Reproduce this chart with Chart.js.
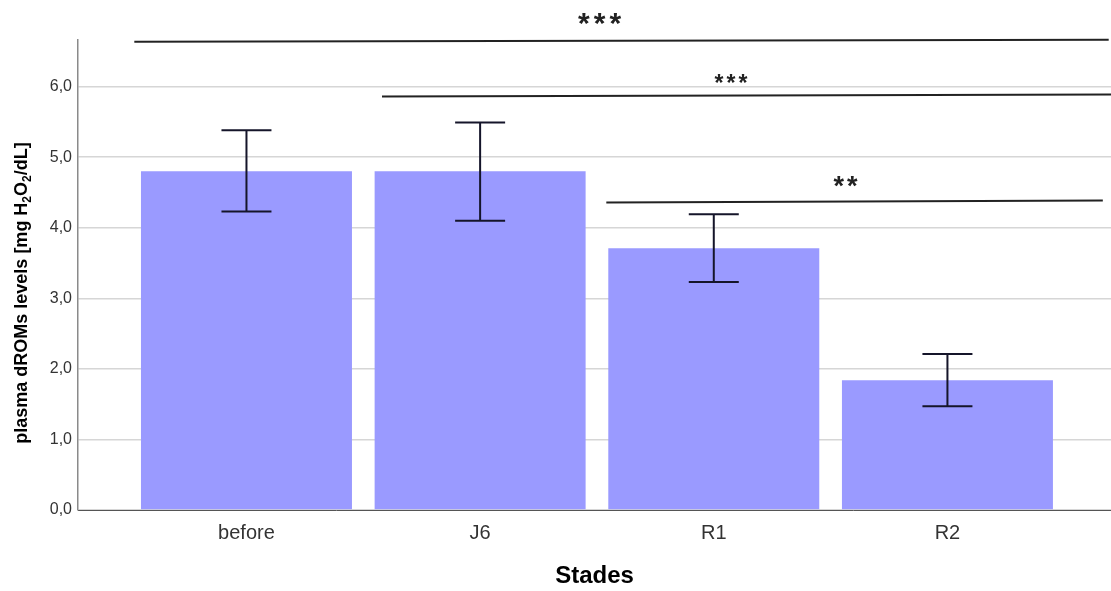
<!DOCTYPE html>
<html>
<head>
<meta charset="utf-8">
<script src="https://cdn.jsdelivr.net/npm/chart.js@4/dist/chart.umd.min.js"></script>
<style>
  html, body { margin: 0; padding: 0; background: #fff; }
  #chart { display: block; }
</style>
</head>
<body>
<canvas id="chart" width="1111" height="591"></canvas>
<script>
// --- data ---
const stades = ['before', 'J6', 'R1', 'R2'];
const means = [4.80, 4.80, 3.71, 1.84];
const errLow = [4.23, 4.10, 3.23, 1.47];
const errHigh = [5.38, 5.49, 4.19, 2.21];
const yTicks = [0, 1, 2, 3, 4, 5, 6];

// significance brackets: x in category units, y in data units
const sigFrom = [-0.48, 0.58, 1.54];
const sigTo = [3.69, 3.70, 3.665];
const sigYStart = [6.636, 5.858, 4.358];
const sigYEnd = [6.665, 5.887, 4.387];
const sigLabels = ['***', '***', '**'];
const sigLabelX = [1.52, 2.08, 2.57];
const sigLabelY = [6.96, 6.11, 4.66];
const sigLabelSize = [30, 23, 27];

const FONT = '"Liberation Sans", Arial, sans-serif';

// error bars
const errorBars = {
    id: 'errorBars',
    afterDatasetsDraw(chart) {
        const { ctx, scales: { x, y } } = chart;
        ctx.save();
        ctx.strokeStyle = '#15152a';
        ctx.lineWidth = 2;
        stades.forEach((s, i) => {
            const cx = x.getPixelForValue(i);
            const top = y.getPixelForValue(errHigh[i]);
            const bot = y.getPixelForValue(errLow[i]);
            ctx.beginPath();
            ctx.moveTo(cx, top); ctx.lineTo(cx, bot);
            ctx.moveTo(cx - 25, top); ctx.lineTo(cx + 25, top);
            ctx.moveTo(cx - 25, bot); ctx.lineTo(cx + 25, bot);
            ctx.stroke();
        });
        ctx.restore();
    }
};

// significance lines + stars, and the y axis title (needs subscripts)
const annotations = {
    id: 'annotations',
    afterDraw(chart) {
        const { ctx, scales: { x, y } } = chart;
        ctx.save();
        ctx.strokeStyle = '#222';
        ctx.lineWidth = 2;
        sigFrom.forEach((f, i) => {
            ctx.beginPath();
            ctx.moveTo(x.getPixelForValue(f), y.getPixelForValue(sigYStart[i]));
            ctx.lineTo(x.getPixelForValue(sigTo[i]), y.getPixelForValue(sigYEnd[i]));
            ctx.stroke();
        });

        ctx.fillStyle = '#222';
        ctx.textAlign = 'center';
        ctx.textBaseline = 'alphabetic';
        sigLabels.forEach((t, i) => {
            ctx.font = 'bold ' + sigLabelSize[i] + 'px ' + FONT;
            ctx.letterSpacing = Math.round(sigLabelSize[i] / 8) + 'px';
            const m = ctx.measureText(t);
            const cy = y.getPixelForValue(sigLabelY[i]);
            const off = (m.actualBoundingBoxAscent - m.actualBoundingBoxDescent) / 2;
            ctx.fillText(t, x.getPixelForValue(sigLabelX[i]), cy + off);
        });
        ctx.letterSpacing = '0px';

        // y title: plasma dROMs levels [mg H2O2/dL]
        const parts = [
            ['plasma dROMs levels [mg H', 0],
            ['2', 1],
            ['O', 0],
            ['2', 1],
            ['/dL]', 0]
        ];
        const big = 'bold 18px ' + FONT;
        const small = 'bold 12px ' + FONT;
        let total = 0;
        parts.forEach(p => { ctx.font = p[1] ? small : big; total += ctx.measureText(p[0]).width; });
        ctx.translate(27, 293);
        ctx.rotate(-Math.PI / 2);
        ctx.textAlign = 'left';
        ctx.fillStyle = '#000';
        let pos = -total / 2;
        parts.forEach(p => {
            ctx.font = p[1] ? small : big;
            ctx.fillText(p[0], pos, p[1] ? 4 : 0);
            pos += ctx.measureText(p[0]).width;
        });
        ctx.restore();
    }
};

new Chart(document.getElementById('chart'), {
    type: 'bar',
    data: {
        datasets: [{
            data: stades.map((s, i) => ({ x: i, y: means[i] })),
            backgroundColor: '#9a9aff',
            borderWidth: 0,
            categoryPercentage: 1,
            barPercentage: 0.903
        }]
    },
    options: {
        responsive: false,
        animation: false,
        layout: { padding: { top: 40, right: 0, left: 0, bottom: 0 } },
        plugins: {
            legend: { display: false },
            tooltip: { enabled: false }
        },
        scales: {
            x: {
                type: 'linear',
                offset: false,
                min: -0.721,
                max: 3.70,
                afterBuildTicks: scale => { scale.ticks = stades.map((s, i) => ({ value: i })); },
                afterFit: scale => { scale.height = 81; },
                grid: { display: false, offset: false },
                border: { color: '#555', width: 1 },
                ticks: {
                    autoSkip: false,
                    maxRotation: 0,
                    padding: 3,
                    color: '#333',
                    font: { family: FONT, size: 20 },
                    callback: v => stades[v]
                },
                title: {
                    display: true,
                    text: 'Stades',
                    color: '#000',
                    font: { family: FONT, size: 24, weight: 'bold' },
                    padding: { top: 0, bottom: 0 }
                }
            },
            y: {
                min: 0,
                max: 6.66,
                afterBuildTicks: scale => { scale.ticks = yTicks.map(v => ({ value: v })); },
                afterFit: scale => { scale.width = 78; },
                grid: { color: '#d6d6d6', lineWidth: 1.5, drawTicks: false },
                border: { color: '#8a8a8a', width: 1.5 },
                ticks: {
                    padding: 6,
                    color: '#333',
                    font: { family: FONT, size: 16 },
                    callback: v => v.toFixed(1).replace('.', ',')
                }
            }
        }
    },
    plugins: [errorBars, annotations]
});
</script>
</body>
</html>
